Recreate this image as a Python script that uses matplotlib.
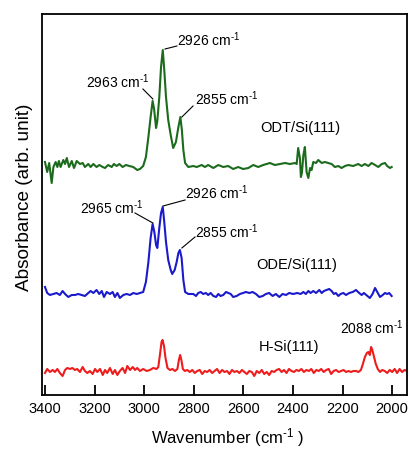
import matplotlib
matplotlib.use("Agg")
import matplotlib.pyplot as plt

# ---------------- data (absorbance, arbitrary units, baseline-relative) ----------------
wn_odt = [3400, 3391, 3383, 3373, 3366, 3357, 3350, 3344, 3337, 3326, 3319, 3312, 3303, 3292,
          3283, 3272, 3259, 3248, 3239, 3225, 3216, 3205, 3192, 3181, 3167, 3158, 3145, 3131,
          3122, 3111, 3100, 3087, 3073, 3060, 3044, 3028, 3017, 3004, 2993, 2983, 2974, 2966,
          2960, 2952, 2947, 2939, 2932, 2925, 2919, 2912, 2903, 2893, 2883, 2872, 2862, 2854,
          2848, 2842, 2835, 2822, 2802, 2788, 2768, 2755, 2742, 2721, 2701, 2681, 2661, 2641,
          2621, 2601, 2580, 2560, 2540, 2520, 2493, 2473, 2452, 2432, 2412, 2392, 2385, 2379,
          2372, 2368, 2364, 2358, 2352, 2345, 2338, 2331, 2325, 2318, 2307, 2298, 2284, 2271,
          2258, 2244, 2231, 2217, 2204, 2190, 2177, 2157, 2137, 2123, 2110, 2096, 2083, 2069,
          2056, 2042, 2029, 2020, 2009, 2002]
abs_odt = [0.5, -0.5, 0.4, -1.6, 0.0, 0.5, 0.0, 0.6, 0.0, 0.7, 0.3, 0.9, 0.0, 0.6,
           -0.1, 0.6, 0.3, 0.4, 0.0, 0.3, 0.0, 0.3, 0.0, 0.2, 0.0, -0.1, 0.2, 0.0,
           0.3, 0.1, 0.3, 0.0, 0.2, 0.1, 0.0, -0.3, -0.2, 0.1, 1.0, 3.0, 5.0, 6.6,
           5.8, 3.9, 4.6, 7.0, 10.0, 11.7, 9.7, 7.0, 4.7, 3.2, 1.9, 2.5, 4.0, 5.0,
           3.7, 1.7, 0.4, 0.0, 0.1, 0.0, 0.2, 0.0, 0.2, -0.1, 0.2, 0.0, 0.1, -0.2,
           0.0, -0.2, -0.1, 0.2, 0.0, 0.2, 0.4, 0.2, 0.3, 0.4, 0.3, 0.4, 0.3, 1.9,
           0.9, -1.0, -0.6, 1.2, 2.0, -0.5, -1.1, -0.1, -0.3, 0.5, 0.4, 0.7, 0.4, 0.5,
           0.4, 0.3, 0.0, 0.1, -0.1, 0.1, 0.2, 0.1, 0.3, 0.1, 0.3, 0.1, 0.4, 0.2,
           0.0, 0.3, 0.4, 0.1, -0.1, 0.0]

wn_ode = [3400, 3391, 3380, 3367, 3353, 3340, 3329, 3319, 3306, 3292, 3279, 3266, 3252, 3239,
          3225, 3216, 3205, 3192, 3181, 3171, 3162, 3151, 3138, 3127, 3118, 3108, 3098, 3084,
          3071, 3057, 3044, 3030, 3017, 3004, 2993, 2983, 2974, 2966, 2959, 2952, 2947, 2939,
          2932, 2925, 2919, 2912, 2903, 2893, 2887, 2877, 2869, 2862, 2856, 2849, 2842, 2835,
          2822, 2815, 2802, 2791, 2782, 2772, 2762, 2751, 2742, 2732, 2721, 2710, 2701, 2692,
          2681, 2670, 2661, 2651, 2641, 2627, 2614, 2601, 2590, 2576, 2563, 2549, 2536, 2522,
          2509, 2496, 2482, 2469, 2455, 2442, 2428, 2415, 2399, 2383, 2369, 2358, 2348, 2338,
          2329, 2318, 2307, 2294, 2284, 2275, 2264, 2254, 2244, 2235, 2227, 2217, 2208, 2197,
          2186, 2173, 2159, 2146, 2133, 2123, 2114, 2100, 2090, 2079, 2069, 2060, 2049, 2038,
          2029, 2020, 2012, 2002]
abs_ode = [0.8, 0.2, 0.0, 0.1, 0.2, 0.0, 0.4, 0.1, -0.2, 0.0, 0.0, 0.1, 0.0, -0.1,
           0.2, 0.4, 0.2, 0.5, 0.1, 0.4, -0.2, 0.3, 0.1, 0.3, -0.2, 0.2, -0.3, 0.0,
           0.1, 0.0, 0.2, 0.1, 0.2, 0.3, 1.3, 3.3, 5.7, 7.1, 6.3, 5.0, 4.7, 6.7,
           8.2, 8.8, 7.3, 5.3, 3.5, 2.5, 2.1, 2.5, 3.3, 4.2, 4.5, 3.7, 1.5, 0.3,
           0.1, 0.1, 0.1, -0.1, 0.2, 0.3, 0.1, 0.2, 0.0, 0.2, -0.1, -0.2, 0.1, -0.1,
           0.0, 0.3, 0.2, 0.1, -0.2, -0.1, 0.1, 0.2, 0.3, 0.2, 0.3, 0.1, -0.2, -0.1,
           0.1, 0.2, -0.1, 0.1, -0.2, 0.1, 0.0, 0.2, 0.1, 0.2, 0.1, 0.3, 0.1, 0.4,
           0.2, 0.4, 0.2, 0.5, 0.2, 0.4, 0.5, 0.6, 0.4, 0.1, 0.2, -0.1, 0.1, 0.2,
           0.0, 0.2, 0.3, 0.5, 0.2, 0.0, 0.2, -0.1, -0.3, 0.1, 0.7, 0.3, -0.2, 0.0,
           0.2, 0.1, 0.2, -0.1]

wn_h = [3400, 3391, 3380, 3369, 3360, 3350, 3340, 3329, 3319, 3310, 3299, 3290, 3279, 3270,
        3259, 3248, 3239, 3229, 3219, 3208, 3198, 3189, 3178, 3167, 3158, 3149, 3138, 3127,
        3118, 3108, 3098, 3087, 3077, 3068, 3057, 3046, 3037, 3028, 3017, 3004, 2990, 2977,
        2963, 2950, 2943, 2936, 2930, 2926, 2920, 2914, 2906, 2896, 2886, 2876, 2866, 2860,
        2855, 2850, 2844, 2836, 2826, 2816, 2806, 2796, 2786, 2776, 2766, 2756, 2746, 2736,
        2726, 2716, 2706, 2696, 2686, 2676, 2666, 2656, 2646, 2636, 2626, 2616, 2606, 2596,
        2586, 2576, 2566, 2556, 2546, 2536, 2526, 2516, 2506, 2496, 2486, 2476, 2466, 2456,
        2446, 2436, 2426, 2416, 2406, 2396, 2386, 2376, 2366, 2356, 2346, 2336, 2326, 2316,
        2306, 2296, 2286, 2276, 2266, 2256, 2246, 2236, 2226, 2216, 2206, 2196, 2186, 2176,
        2166, 2156, 2146, 2136, 2126, 2118, 2110, 2102, 2096, 2090, 2085, 2080, 2073, 2066,
        2058, 2049, 2040, 2030, 2020, 2010, 2000, 1990, 1980, 1970, 1960, 1950, 1940]
abs_h = [-0.1, 0.3, 0.0, 0.2, 0.0, 0.3, -0.1, -0.4, 0.2, 0.4, 0.3, 0.4, 0.2, 0.3,
         0.0, 0.5, 0.1, -0.1, 0.1, -0.2, 0.3, 0.0, 0.3, -0.3, 0.2, -0.1, 0.4, -0.2,
         0.2, -0.3, 0.1, 0.4, -0.1, 0.6, 0.2, 0.5, 0.2, 0.4, 0.1, 0.3, 0.1, 0.2,
         0.4, 0.3, 0.5, 1.8, 3.0, 3.2, 2.6, 1.4, 0.4, 0.2, 0.3, 0.1, 0.3, 1.2,
         1.7, 1.2, 0.3, 0.1, 0.2, 0.0, 0.2, -0.1, 0.1, 0.2, -0.2, 0.1, 0.0, 0.2,
         -0.1, 0.1, 0.3, -0.1, 0.2, 0.0, 0.1, -0.2, 0.2, 0.0, 0.1, -0.1, 0.2, 0.0,
         -0.2, 0.1, 0.0, -0.4, 0.1, -0.1, 0.2, -0.2, 0.0, -0.3, 0.1, 0.0, 0.2, 0.3,
         0.0, 0.2, -0.1, 0.3, 0.1, 0.0, 0.2, 0.1, 0.3, 0.0, 0.2, 0.1, 0.3, -0.1,
         0.2, 0.1, 0.3, 0.0, 0.2, 0.3, -0.2, 0.1, 0.2, 0.0, 0.1, 0.2, 0.0, 0.1,
         0.0, 0.1, 0.1, 0.0, 0.2, 0.8, 1.5, 1.9, 2.0, 1.7, 2.5, 2.2, 1.5, 0.8,
         0.3, 0.0, 0.2, 0.1, -0.1, 0.2, 0.0, 0.3, -0.1, 0.3, 0.0, 0.2, 0.1]

offsets = {"ODT": 22.8, "ODE": 10.0, "H": 2.3}
xticks = [3400, 3200, 3000, 2800, 2600, 2400, 2200, 2000]

# ---------------- styling ----------------
FONT = ["Liberation Sans", "DejaVu Sans"]
plt.rcParams["font.family"] = FONT
plt.rcParams["mathtext.fontset"] = "custom"
plt.rcParams["mathtext.rm"] = "Liberation Sans"
plt.rcParams["mathtext.it"] = "Liberation Sans"
plt.rcParams["mathtext.default"] = "regular"

fig = plt.figure(figsize=(4.09, 4.49), dpi=100)
ax = fig.add_axes([0.1027, 0.1203, 0.8925, 0.8485])

lw = 1.5
ax.plot(wn_odt, [v + offsets["ODT"] for v in abs_odt], color="#1c6b1c", lw=lw)
ax.plot(wn_ode, [v + offsets["ODE"] for v in abs_ode], color="#1a1acc", lw=lw)
ax.plot(wn_h, [v + offsets["H"] for v in abs_h], color="#ee1c1c", lw=lw)

ax.set_xlim(3412, 1940)
ax.set_ylim(0, 38.1)
ax.set_xticks(xticks)
ax.set_xticklabels([str(t) for t in xticks])
ax.set_yticks([])
ax.tick_params(axis="x", direction="in", length=7, width=1.3, labelsize=10.5, pad=5)
for s in ax.spines.values():
    s.set_linewidth(1.3)

SUP = r"$^{\text{-}1}$"
ax.set_xlabel("Wavenumber (cm" + SUP + " )", fontsize=12)
ax.xaxis.set_label_coords(0.508, -0.113)
ax.xaxis.label.set_va("center")
ax.set_ylabel("Absorbance (arb. unit)", fontsize=13.7)
ax.yaxis.set_label_coords(-0.049, 0.52)
ax.yaxis.label.set_va("center")

fs = 10
def label(x, y, s):
    ax.text(x, y, s + " cm" + SUP, fontsize=fs, ha="left", va="center")

def leader(x0, y0, x1, y1):
    ax.plot([x0, x1], [y0, y1], color="black", lw=0.8)

# ODT annotations
label(2868, 35.5, "2926")
leader(2916, 34.6, 2868, 34.9)
label(3235, 31.3, "2963")
leader(3005, 30.6, 2965, 29.6)
label(2795, 29.6, "2855")
leader(2848, 27.8, 2803, 28.9)
ax.text(2533, 26.7, "ODT/Si(111)", fontsize=10.5, ha="left", va="center")

# ODE annotations
label(3259, 18.7, "2965")
leader(3037, 18.2, 2965, 17.2)
label(2835, 20.2, "2926")
leader(2924, 18.9, 2835, 19.5)
label(2795, 16.3, "2855")
leader(2848, 14.7, 2795, 15.8)
ax.text(2549, 13.0, "ODE/Si(111)", fontsize=10.5, ha="left", va="center")

# H-Si annotations
ax.text(2537, 4.8, "H-Si(111)", fontsize=10.5, ha="left", va="center")
label(2210, 6.7, "2088")

fig.savefig("out.png", dpi=100)
